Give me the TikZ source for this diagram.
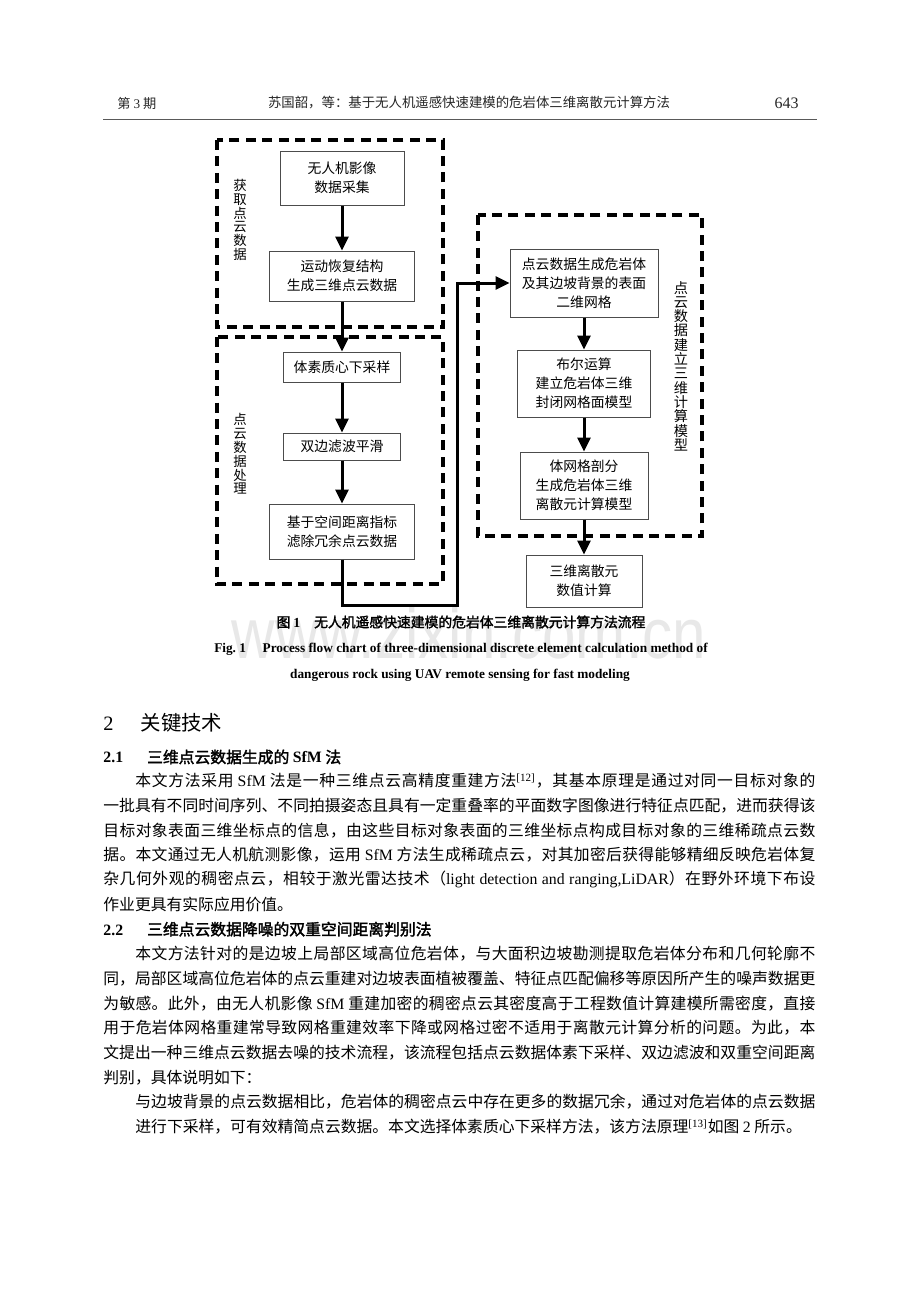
\documentclass[tikz,border=0pt]{standalone}
\usepackage{graphicx}
\usepackage{fontspec}
\setmainfont{Noto Sans CJK SC}[AutoFakeBold=2]
\newfontfamily\latinserif{Liberation Serif}
\newfontfamily\wmfont{Liberation Sans}
\usetikzlibrary{arrows.meta}
\setlength\parindent{0pt}

% stretchable glue between CJK characters, so that full lines can be justified
\XeTeXinterchartokenstate=1
\newXeTeXintercharclass\cjkcls
\newcount\cjkcnt
\cjkcnt="4E00
\loop
  \XeTeXcharclass\cjkcnt=\cjkcls
  \ifnum\cjkcnt<"9FFF \advance\cjkcnt 1 \repeat
\XeTeXcharclass"3001=\cjkcls
\XeTeXcharclass"3002=\cjkcls
\XeTeXcharclass"FF0C=\cjkcls
\XeTeXcharclass"FF1A=\cjkcls
\XeTeXcharclass"FF08=\cjkcls
\XeTeXcharclass"FF09=\cjkcls
\XeTeXinterchartoks\cjkcls\cjkcls={\nobreak\hskip0pt plus 1pt\relax}

\tikzset{
  proc/.style={draw=black!70, line width=0.5pt, fill=white, align=center, inner sep=1pt,
    font=\fontsize{6.9}{9.6}\selectfont},
  flow/.style={line width=1.5pt, -{Triangle[length=7pt,width=6.5pt]}},
  group/.style={draw, line width=1.6pt, dash pattern=on 5pt off 3.2pt},
  vlabel/.style={align=center, inner sep=0pt, font=\fontsize{6.7}{6.9}\selectfont},
  body/.style={anchor=west, inner sep=0pt, text width=356pt, align=justify,
    font=\fontsize{7.9}{7.9}\selectfont},
  bodyin/.style={body, text width=340pt},
  plain/.style={anchor=west, inner sep=0pt, font=\fontsize{7.9}{7.9}\selectfont},
  head/.style={anchor=west, inner sep=0pt, font=\bfseries\fontsize{7.9}{7.9}\selectfont},
}
\newcommand\sfm{{\latinserif SfM}}
\newcommand\fullline[1]{\parfillskip=0pt\relax #1\par}

\begin{document}
\begin{tikzpicture}[x=0.5pt, y=-0.5pt]
\path[use as bounding box, fill=white] (0,0) rectangle (920,1302);

% watermark
\node[anchor=base, inner sep=0pt, font=\wmfont\fontsize{35.6}{35.6}\selectfont, text=black!9] (wm) at (469,658) {\scalebox{0.845}[1]{www.zixin.com.cn}};

% running head
\node[anchor=west, inner sep=0pt, font=\fontsize{6.6}{6.6}\selectfont, text=black!85] (issue) at (117,103) {第 {\latinserif 3} 期};
\node[font=\fontsize{6.7}{6.7}\selectfont, text=black!85] (runtitle) at (469,103) {苏国韶，等：基于无人机遥感快速建模的危岩体三维离散元计算方法};
\node[anchor=east, inner sep=0pt, font=\latinserif\fontsize{8}{8}\selectfont, text=black!85] (page) at (799,103) {643};
\draw[line width=0.5pt, black!65] (103,119) -- (817,119);

% groups
\draw[group] (217,140) rectangle (443,327);
\draw[group] (217,337) rectangle (443,584);
\draw[group] (478,215) rectangle (702,536);
\node[vlabel] (lab1) at (240,220) {获\\取\\点\\云\\数\\据};
\node[vlabel] (lab2) at (240,454) {点\\云\\数\\据\\处\\理};
\node[vlabel, font=\fontsize{7.1}{7.15}\selectfont] (lab3) at (681,366) {点\\云\\数\\据\\建\\立\\三\\维\\计\\算\\模\\型};

% left column
\node[proc, minimum width=62pt, minimum height=27pt] (acq) at (342,178) {无人机影像\\数据采集};
\node[proc, minimum width=72.5pt, minimum height=25pt] (sfmbox) at (342,276) {运动恢复结构\\生成三维点云数据};
\node[proc, minimum width=58.5pt, minimum height=15pt] (voxel) at (342,367) {体素质心下采样};
\node[proc, minimum width=58.5pt, minimum height=13.5pt] (bilat) at (342,446.5) {双边滤波平滑};
\node[proc, minimum width=72.5pt, minimum height=27.5pt] (filter) at (342,531.5) {基于空间距离指标\\滤除冗余点云数据};

% right column
\node[proc, minimum width=74pt, minimum height=34pt] (mesh) at (584,283) {点云数据生成危岩体\\及其边坡背景的表面\\二维网格};
\node[proc, minimum width=66.5pt, minimum height=33.5pt] (bool) at (584,383.5) {布尔运算\\建立危岩体三维\\封闭网格面模型};
\node[proc, minimum width=64pt, minimum height=33.5pt] (vol) at (584,485.5) {体网格剖分\\生成危岩体三维\\离散元计算模型};
\node[proc, minimum width=58pt, minimum height=26pt] (calc) at (584,581) {三维离散元\\数值计算};

\coordinate (low) at (457,605);
\draw[flow] (acq) -- (sfmbox);
\draw[flow] (sfmbox) -- (voxel);
\draw[flow] (voxel) -- (bilat);
\draw[flow] (bilat) -- (filter);
\draw[flow] (filter.south) |- (low) |- (mesh.west);
\draw[flow] (mesh) -- (bool);
\draw[flow] (bool) -- (vol);
\draw[flow] (vol) -- (calc);

% captions
\node[font=\bfseries\fontsize{6.9}{6.9}\selectfont] (cap) at (461,622) {图 {\latinserif\bfseries 1}\quad 无人机遥感快速建模的危岩体三维离散元计算方法流程};
\node[font=\latinserif\bfseries\fontsize{6.65}{6.65}\selectfont] (capen) at (461,649) {Fig.~1\quad\ Process flow chart of three-dimensional discrete element calculation method of};
\node[font=\latinserif\bfseries\fontsize{6.65}{6.65}\selectfont] (capenb) at (460,675) {dangerous rock using UAV remote sensing for fast modeling};

% text
\node[anchor=west, inner sep=0pt, font=\fontsize{10.2}{10.2}\selectfont] (sec) at (103,723) {{\latinserif 2}\hspace{13.5pt}关键技术};
\node[head] (sub1) at (103,757) {{\latinserif\bfseries 2.1}\hspace{12pt}三维点云数据生成的 {\latinserif\bfseries SfM} 法};
\node[bodyin] (l0) at (135,781) {\fullline{本文方法采用 \sfm{} 法是一种三维点云高精度重建方法\textsuperscript{\latinserif[12]}，其基本原理是通过对同一目标对象的}};
\node[body] (l1) at (103,805.7) {\fullline{一批具有不同时间序列、不同拍摄姿态且具有一定重叠率的平面数字图像进行特征点匹配，进而获得该}};
\node[body] (l2) at (103,830.4) {\fullline{目标对象表面三维坐标点的信息，由这些目标对象表面的三维坐标点构成目标对象的三维稀疏点云数}};
\node[body] (l3) at (103,855.1) {\fullline{据。本文通过无人机航测影像，运用 \sfm{} 方法生成稀疏点云，对其加密后获得能够精细反映危岩体复}};
\node[body] (l4) at (103,879.8) {\fullline{杂几何外观的稠密点云，相较于激光雷达技术（{\latinserif light~detection~and~ranging,LiDAR}）在野外环境下布设}};
\node[plain] (l5) at (103,904.5) {作业更具有实际应用价值。};
\node[head] (sub2) at (103,929.2) {{\latinserif\bfseries 2.2}\hspace{12pt}三维点云数据降噪的双重空间距离判别法};
\node[bodyin] (l7) at (135,953.9) {\fullline{本文方法针对的是边坡上局部区域高位危岩体，与大面积边坡勘测提取危岩体分布和几何轮廓不}};
\node[body] (l8) at (103,978.6) {\fullline{同，局部区域高位危岩体的点云重建对边坡表面植被覆盖、特征点匹配偏移等原因所产生的噪声数据更}};
\node[body] (l9) at (103,1003.3) {\fullline{为敏感。此外，由无人机影像 \sfm{} 重建加密的稠密点云其密度高于工程数值计算建模所需密度，直接}};
\node[body] (l10) at (103,1028) {\fullline{用于危岩体网格重建常导致网格重建效率下降或网格过密不适用于离散元计算分析的问题。为此，本}};
\node[body] (l11) at (103,1052.7) {\fullline{文提出一种三维点云数据去噪的技术流程，该流程包括点云数据体素下采样、双边滤波和双重空间距离}};
\node[plain] (l12) at (103,1077.4) {判别，具体说明如下：};
\node[bodyin] (l13) at (135,1102.1) {\fullline{与边坡背景的点云数据相比，危岩体的稠密点云中存在更多的数据冗余，通过对危岩体的点云数据}};
\node[plain] (l14) at (135,1126.8) {进行下采样，可有效精简点云数据。本文选择体素质心下采样方法，该方法原理\textsuperscript{\latinserif[13]}如图 {\latinserif 2} 所示。};
\end{tikzpicture}
\end{document}
